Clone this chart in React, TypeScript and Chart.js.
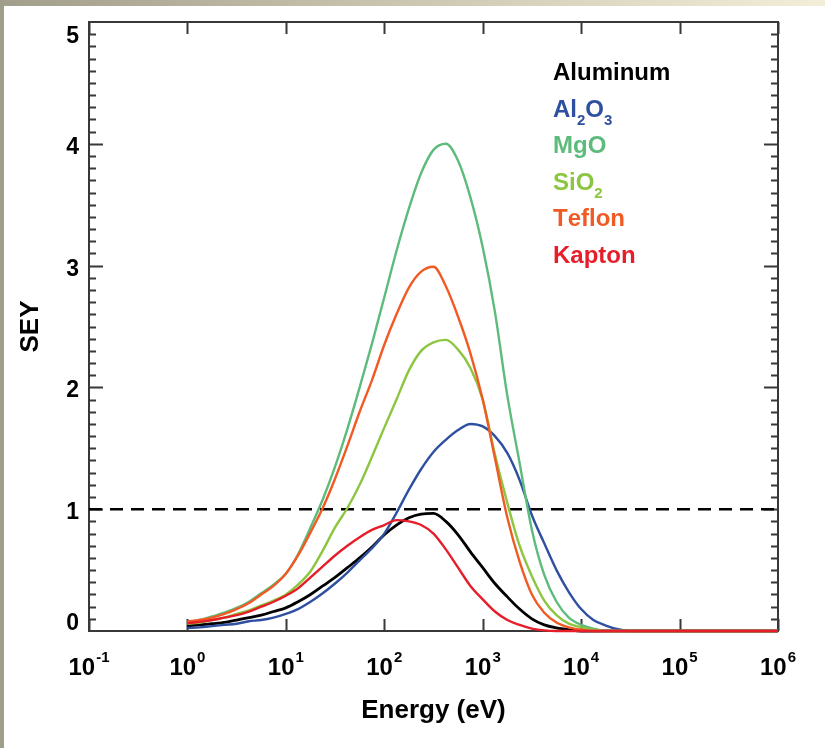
import React, { useEffect, useRef } from "react";
import { Chart, registerables } from "chart.js";

Chart.register(...registerables);

// Primary electron energy grid (eV), eight samples per decade
const energies = [
  1, 1.33, 1.78, 2.37, 3.16, 4.22, 5.62, 7.5,
  10, 13.3, 17.8, 23.7, 31.6, 42.2, 56.2, 75,
  100, 133, 178, 237, 316, 422, 562, 750,
  1000, 1330, 1780, 2370, 3160, 4220, 5620, 7500,
  10000, 13300, 17800, 23700, 31600, 100000, 1000000,
];

// Secondary electron yield for each material on the grid above
const aluminum = [
  0.04, 0.05, 0.06, 0.07, 0.09, 0.11, 0.13, 0.16,
  0.19, 0.24, 0.3, 0.37, 0.44, 0.52, 0.6, 0.69,
  0.79, 0.87, 0.93, 0.96, 0.965, 0.9, 0.79, 0.65,
  0.52, 0.39, 0.28, 0.18, 0.1, 0.05, 0.025, 0.01,
  0, 0, 0, 0, 0, 0, 0,
];
const alumina = [
  0.025, 0.03, 0.04, 0.05, 0.06, 0.08, 0.09, 0.11,
  0.14, 0.18, 0.24, 0.31, 0.39, 0.48, 0.58, 0.68,
  0.8, 0.97, 1.16, 1.33, 1.47, 1.57, 1.65, 1.7,
  1.68, 1.6, 1.46, 1.24, 0.95, 0.72, 0.5, 0.32,
  0.18, 0.09, 0.045, 0.015, 0, 0, 0,
];
const magnesia = [
  0.07, 0.09, 0.12, 0.15, 0.19, 0.24, 0.31, 0.38,
  0.47, 0.63, 0.85, 1.08, 1.35, 1.66, 2.0, 2.36,
  2.74, 3.12, 3.47, 3.76, 3.95, 4.0, 3.86, 3.56,
  3.15, 2.62, 1.93, 1.38, 0.83, 0.46, 0.24, 0.11,
  0.05, 0.02, 0, 0, 0, 0, 0,
];
const silica = [
  0.06, 0.07, 0.09, 0.11, 0.14, 0.17, 0.21, 0.25,
  0.3, 0.38, 0.49, 0.66, 0.85, 1.01, 1.2, 1.43,
  1.67, 1.9, 2.14, 2.3, 2.37, 2.39, 2.31, 2.16,
  1.9, 1.45, 1.05, 0.7, 0.45, 0.25, 0.13, 0.06,
  0.03, 0.01, 0, 0, 0, 0, 0,
];
const teflon = [
  0.08, 0.09, 0.11, 0.14, 0.18, 0.23, 0.3, 0.37,
  0.47, 0.62, 0.81, 1.01, 1.25, 1.52, 1.8, 2.06,
  2.35, 2.6, 2.82, 2.95, 2.99, 2.83, 2.58, 2.28,
  1.9, 1.42, 0.93, 0.57, 0.3, 0.15, 0.07, 0.03,
  0.01, 0, 0, 0, 0, 0, 0,
];
const kapton = [
  0.065, 0.075, 0.09, 0.11, 0.13, 0.16, 0.2, 0.24,
  0.29, 0.35, 0.44, 0.53, 0.62, 0.7, 0.77, 0.83,
  0.87, 0.91, 0.9, 0.87, 0.8, 0.67, 0.52, 0.37,
  0.26, 0.16, 0.09, 0.05, 0.02, 0.005, 0, 0,
  0, 0, 0, 0, 0, 0, 0,
];

const seriesLabels = ["Aluminum", "Al2O3", "MgO", "SiO2", "Teflon", "Kapton"];
const seriesColors = ["#000000", "#2f50a0", "#5dbb7b", "#8cc540", "#f15a24", "#e61e2a"];
const seriesValues = [aluminum, alumina, magnesia, silica, teflon, kapton];

// Unity-yield reference line
const unityEnergies = [0.1, 1000000];
const unityYield = [1, 1];

const xTickValues = [0.1, 1, 10, 100, 1000, 10000, 100000, 1000000];
const xTickExponents = ["-1", "0", "1", "2", "3", "4", "5", "6"];
const yTickValues = [0, 1, 2, 3, 4, 5];
const yTickLabels = ["0", "1", "2", "3", "4", "5"];

const FONT = '"Liberation Sans", Arial, Helvetica, sans-serif';
const setFont = (ctx: CanvasRenderingContext2D, size: number) => {
  ctx.font = `bold ${size}px ${FONT}`;
};

const framePlugin = {
  id: "seyFrame",
  beforeDatasetsDraw(chart: any) {
    const { ctx, chartArea: a, scales } = chart;
    const xs = scales.x;
    const ys = scales.y;
    ctx.save();
    ctx.strokeStyle = "#383838";
    ctx.lineWidth = 2;
    ctx.strokeRect(a.left, a.top, a.right - a.left, a.bottom - a.top);
    ctx.beginPath();
    // decade ticks on bottom and top edges, pointing inward
    for (const v of xTickValues) {
      const px = Math.round(xs.getPixelForValue(v)) + 0.5;
      ctx.moveTo(px, a.bottom);
      ctx.lineTo(px, a.bottom - 12);
      ctx.moveTo(px, a.top);
      ctx.lineTo(px, a.top + 12);
    }
    // major and minor ticks on left and right edges
    for (let i = 1; i < 50; i++) {
      const py = Math.round(ys.getPixelForValue(i / 10)) + 0.5;
      const len = i % 10 === 0 ? 14 : 7;
      ctx.moveTo(a.left, py);
      ctx.lineTo(a.left + len, py);
      ctx.moveTo(a.right, py);
      ctx.lineTo(a.right - len, py);
    }
    ctx.stroke();
    ctx.restore();
  },
  afterDraw(chart: any) {
    const { ctx, chartArea: a, scales } = chart;
    const xs = scales.x;
    const ys = scales.y;
    ctx.save();
    ctx.fillStyle = "#000";
    ctx.textBaseline = "alphabetic";

    // y tick labels; the end labels sit inside the frame
    setFont(ctx, 23);
    ctx.textAlign = "right";
    yTickValues.forEach((v, i) => {
      let py = ys.getPixelForValue(v) + 10;
      if (i === 0) py -= 11;
      if (i === yTickValues.length - 1) py += 11;
      ctx.fillText(yTickLabels[i], 79, py);
    });

    // x tick labels as powers of ten
    ctx.textAlign = "left";
    xTickValues.forEach((v, i) => {
      const px = xs.getPixelForValue(v);
      setFont(ctx, 24);
      const wb = ctx.measureText("10").width;
      setFont(ctx, 15);
      const ws = ctx.measureText(xTickExponents[i]).width;
      const left = px - (wb + 1 + ws) / 2;
      setFont(ctx, 24);
      ctx.fillText("10", left, 675);
      setFont(ctx, 15);
      ctx.fillText(xTickExponents[i], left + wb + 1, 662);
    });

    // axis titles
    setFont(ctx, 26);
    ctx.textAlign = "center";
    ctx.fillText("Energy (eV)", (a.left + a.right) / 2, 718);
    ctx.save();
    ctx.translate(38, (a.top + a.bottom) / 2);
    ctx.rotate(-Math.PI / 2);
    ctx.fillText("SEY", 0, 0);
    ctx.restore();

    // material labels, digits set as subscripts
    ctx.textAlign = "left";
    seriesLabels.forEach((label, i) => {
      const baseY = 80 + i * 36.6;
      let x = 553;
      ctx.fillStyle = seriesColors[i];
      for (const ch of label) {
        if (ch >= "0" && ch <= "9") {
          setFont(ctx, 15);
          ctx.fillText(ch, x, baseY + 8);
          x += ctx.measureText(ch).width;
        } else {
          setFont(ctx, 24);
          ctx.fillText(ch, x, baseY);
          x += ctx.measureText(ch).width;
        }
      }
    });
    ctx.restore();
  },
};

export default function App() {
  const canvasRef = useRef<HTMLCanvasElement | null>(null);

  useEffect(() => {
    const canvas = canvasRef.current;
    if (!canvas) return;

    const datasets: any[] = seriesValues.map((vals, i) => ({
      label: seriesLabels[i],
      data: energies.map((e, j) => ({ x: e, y: vals[j] })),
      borderColor: seriesColors[i],
      borderWidth: i === 0 ? 2.8 : 2.4,
      pointRadius: 0,
      cubicInterpolationMode: "monotone",
      fill: false,
      clip: 4,
      order: seriesLabels.length - i,
    }));
    datasets.push({
      label: "SEY = 1",
      data: unityEnergies.map((e, j) => ({ x: e, y: unityYield[j] })),
      borderColor: "#000000",
      borderWidth: 2.5,
      borderDash: [13, 8],
      pointRadius: 0,
      fill: false,
      order: 20,
    });

    const chart = new Chart(canvas, {
      type: "line",
      data: { datasets },
      options: {
        animation: false,
        responsive: false,
        devicePixelRatio: 1,
        events: [],
        layout: { padding: { left: 89, right: 47, top: 22, bottom: 117 } },
        scales: {
          x: { type: "logarithmic", min: 0.1, max: 1000000, display: false },
          y: { type: "linear", min: 0, max: 5, display: false },
        },
        plugins: {
          legend: { display: false },
          tooltip: { enabled: false },
          title: { display: false },
        },
      },
      plugins: [framePlugin],
    });

    return () => chart.destroy();
  }, []);

  return (
    <div
      style={{
        position: "absolute",
        left: 0,
        top: 0,
        width: 825,
        height: 748,
        background: "#ffffff",
        overflow: "hidden",
      }}
    >
      <div
        style={{
          position: "absolute",
          left: 0,
          top: 0,
          width: 825,
          height: 6,
          background: "linear-gradient(to right, #a19e8c, #c9c2ac 45%, #f4edd8)",
        }}
      />
      <div
        style={{
          position: "absolute",
          left: 0,
          top: 0,
          width: 4,
          height: 748,
          background: "#a09d8b",
        }}
      />
      <canvas
        ref={canvasRef}
        width={825}
        height={748}
        style={{ position: "absolute", left: 0, top: 0, width: 825, height: 748 }}
      />
    </div>
  );
}
